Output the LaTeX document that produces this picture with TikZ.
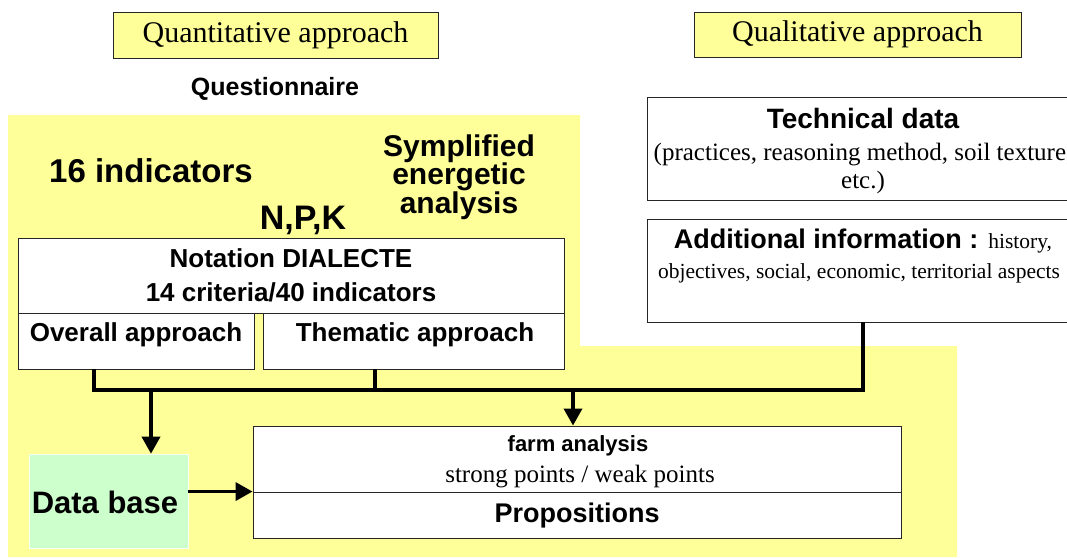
\documentclass[tikz,border=0pt]{standalone}
\usepackage{fontspec}
\setmainfont{Liberation Serif}
\setsansfont{Liberation Sans}
\usetikzlibrary{positioning}
\usetikzlibrary{arrows.meta}
\definecolor{bgyellow}{RGB}{255,255,153}
\definecolor{dbgreen}{RGB}{204,255,204}
\tikzset{
    mybox/.style = {rectangle, draw=black!85, line width=0.9pt, fill=white, inner sep=0pt},
    myboxy/.style = {rectangle, draw=black!85, line width=0.9pt, fill=bgyellow, inner sep=0pt},
    myboxg/.style = {rectangle, draw=white!80!dbgreen, line width=0.6pt, fill=dbgreen, inner sep=0pt},
    mytext/.style = {inner sep=0pt, align=center},
    myserif/.style 2 args = {font=\fontsize{#1}{#2}\selectfont},
    mysans/.style 2 args = {font=\sffamily\bfseries\fontsize{#1}{#2}\selectfont},
    edgen/.style = {-, line width=3.6pt, black},
    edgea/.style = {-{Triangle[length=17pt,width=18pt]}, line width=3.6pt, black}
}

\begin{document}
\begin{tikzpicture}[x=1pt, y=-1pt]
  \useasboundingbox (0,0) rectangle (1067,557);
  \clip (0,0) rectangle (1067,557);
  % yellow background
  \fill[bgyellow] (8,115) -- (580,115) -- (580,346) -- (957,346) -- (957,557) -- (8,557) -- cycle;

  % titles
  \node[myboxy, minimum width=325pt, minimum height=46pt, myserif={30}{34}] (qnt) at (275.5,35) {Quantitative approach};
  \node[myboxy, minimum width=327pt, minimum height=45pt, myserif={30}{34}] (qlt) at (857.5,34.5) {Qualitative approach};
  \node[mytext, anchor=base, mysans={25}{30}] (quest) at (275,95) {Questionnaire};

  % quantitative part
  \node[mytext, anchor=base, mysans={33}{38}] (ind) at (151,182) {16 indicators};
  \node[mytext, mysans={30}{28}] (ener) at (459,177) {Symplified\\energetic\\analysis};
  \node[mytext, anchor=base, mysans={34}{38}] (npk) at (303,229) {N,P,K};
  \node[mybox, minimum width=546pt, minimum height=75pt, align=center, mysans={26}{34}] (dial) at (291,275.5) {Notation DIALECTE\\14 criteria/40 indicators};
  \node[mybox, minimum width=236pt, minimum height=56pt] (ovr) at (136,341) {};
  \node[mybox, minimum width=301pt, minimum height=56pt] (thm) at (413.5,341) {};
  \node[mytext, anchor=base, mysans={26}{30}] (ovrt) at (136,341) {Overall approach};
  \node[mytext, anchor=base, mysans={26}{30}] (thmt) at (415,341) {Thematic approach};

  % qualitative part
  \node[mybox, minimum width=432pt, minimum height=103pt] (tech) at (863,148.5) {};
  \node[mytext, anchor=base, mysans={28}{32}] (techt) at (863,128) {Technical data};
  \node[mytext, myserif={25}{28}] (techb) at (863,168.5) {(practices, reasoning method, soil texture,\\etc.)};
  \node[mybox, minimum width=432pt, minimum height=103pt] (addi) at (863,270.5) {};
  \node[mytext, anchor=base, mysans={27}{32}] (addit) at (863,248) {Additional information : {\rmfamily\mdseries\fontsize{21.5}{26}\selectfont history,}};
  \node[mytext, anchor=base, myserif={21.5}{26}] (addib) at (859,278) {objectives, social, economic, territorial aspects};

  % results
  \node[myboxg, minimum width=159pt, minimum height=94pt] (db) at (108.5,501) {};
  \node[mytext, anchor=base, mysans={31}{36}] (dbt) at (105,513) {Data base};
  \node[mybox, minimum width=648pt, minimum height=66pt] (farm) at (577,459) {};
  \node[mybox, minimum width=648pt, minimum height=46pt] (prop) at (577,515) {};
  \node[mytext, anchor=base, mysans={22}{26}] (farmt) at (578,451) {farm analysis};
  \node[mytext, anchor=base, myserif={25}{28}] (farmb) at (580,482) {strong points / weak points};
  \node[mytext, anchor=base, mysans={27}{32}] (propt) at (577,522) {Propositions};

  % connectors
  \coordinate (j1) at (94,390);
  \coordinate (j2) at (375,390);
  \coordinate (j3) at (863,390);
  \coordinate (j4) at (151,390);
  \coordinate (j5) at (573,390);
  \draw[edgen] (j1 |- ovr.south) -- (j1) -- (j3) -- (addi.south);
  \draw[edgen] (j2 |- thm.south) -- (j2);
  \draw[edgea] (j4) -- (j4 |- db.north);
  \draw[edgea] (j5) -- (j5 |- farm.north);
  \draw[edgea] (db.east |- prop.north) -- (prop.north west);
\end{tikzpicture}
\end{document}
